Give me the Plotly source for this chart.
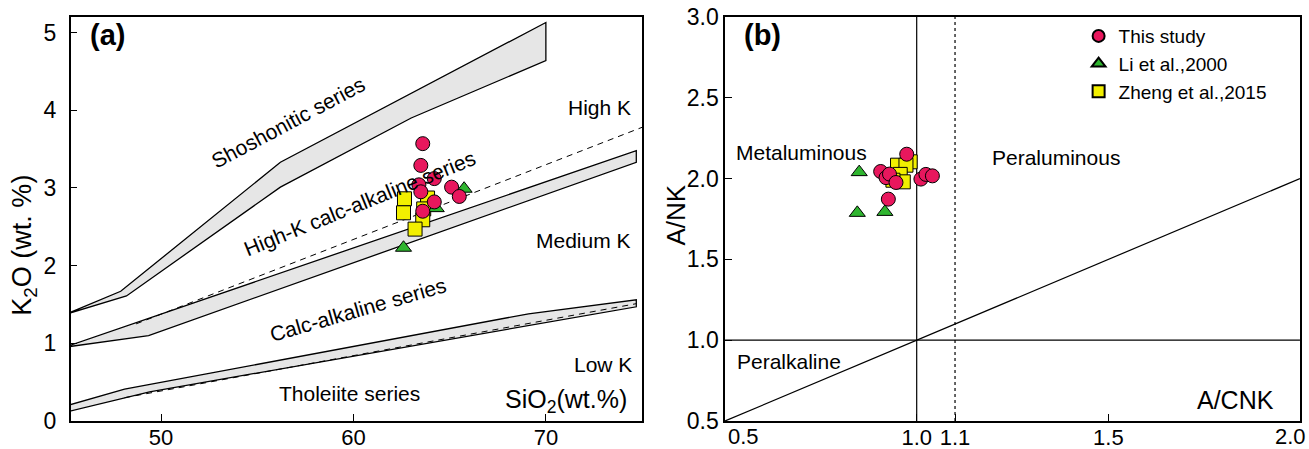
import plotly.graph_objects as go

# ---------------- (a) SiO2 vs K2O ----------------
# Series boundary bands (upper / lower edge of each grey band)
shos_upper_x = [45.0, 47.9, 56.2, 70.0]
shos_upper_y = [1.37, 1.67, 3.33, 5.13]
shos_lower_x = [45.0, 48.2, 56.2, 63.0, 70.0]
shos_lower_y = [1.37, 1.61, 3.01, 3.90, 4.64]

hk_upper_x = [45.0, 74.7]
hk_upper_y = [0.95, 3.48]
hk_lower_x = [45.0, 49.35, 74.7]
hk_lower_y = [0.95, 1.10, 3.33]
hk_dash_x = [48.7, 75.0]
hk_dash_y = [1.25, 3.78]

lk_upper_x = [45.0, 48.1, 69.1, 74.7]
lk_upper_y = [0.19, 0.41, 1.38, 1.56]
lk_lower_x = [45.0, 49.4, 74.7]
lk_lower_y = [0.11, 0.376, 1.47]
lk_dash_x = [48.1, 74.7]
lk_dash_y = [0.30, 1.51]

# Samples
this_sio2 = [63.6, 63.5, 64.2, 63.4, 63.5, 65.1, 65.5, 64.2, 63.6]
this_k2o = [3.57, 3.29, 3.12, 3.04, 2.95, 3.01, 2.89, 2.82, 2.70]
li_sio2 = [65.75, 64.3, 62.6]
li_k2o = [2.99, 2.74, 2.23]
zheng_sio2 = [62.65, 62.6, 63.85, 63.65, 63.6, 63.2]
zheng_k2o = [2.86, 2.68, 2.87, 2.73, 2.59, 2.47]

# ---------------- (b) A/CNK vs A/NK ----------------
this_acnk = [0.974, 0.906, 0.920, 0.929, 0.946, 1.011, 1.024, 1.041, 0.926]
this_anK = [2.151, 2.044, 2.006, 2.028, 1.976, 1.997, 2.026, 2.017, 1.873]
li_acnk = [0.850, 0.845, 0.917]
li_anK = [2.040, 1.788, 1.794]
zheng_acnk = [0.950, 0.983, 0.972, 0.957, 0.965, 0.938]
zheng_anK = [2.083, 2.104, 2.083, 2.026, 1.980, 1.990]

# Panel (b) reference lines
vline_x = [1.0, 1.0]
vline_y = [0.5, 3.0]
dot_x = [1.1, 1.1]
dot_y = [0.5, 3.0]
hline_x = [0.5, 2.0]
hline_y = [1.0, 1.0]
diag_x = [0.5, 2.0]
diag_y = [0.5, 2.0]

FONT = "Liberation Sans, Arial, sans-serif"
BAND_FILL = "#e6e6e6"
C_THIS = "#e8175d"
C_LI = "#2fb52f"
C_ZHENG = "#f2ef00"

fig = go.Figure()


def band(ux, uy, lx, ly):
    xs = list(ux) + list(reversed(lx)) + [ux[0]]
    ys = list(uy) + list(reversed(ly)) + [uy[0]]
    fig.add_trace(go.Scatter(x=xs, y=ys, mode="lines", fill="toself",
                             fillcolor=BAND_FILL,
                             line=dict(color="black", width=1.3),
                             showlegend=False, hoverinfo="skip",
                             xaxis="x", yaxis="y"))


band(shos_upper_x, shos_upper_y, shos_lower_x, shos_lower_y)
band(hk_upper_x, hk_upper_y, hk_lower_x, hk_lower_y)
band(lk_upper_x, lk_upper_y, lk_lower_x, lk_lower_y)

for dx, dy in ((hk_dash_x, hk_dash_y), (lk_dash_x, lk_dash_y)):
    fig.add_trace(go.Scatter(x=dx, y=dy, mode="lines",
                             line=dict(color="black", width=1, dash="6px,5px"),
                             showlegend=False, hoverinfo="skip",
                             xaxis="x", yaxis="y"))

for lx, ly, dash in ((vline_x, vline_y, "solid"), (dot_x, dot_y, "dot"),
                     (hline_x, hline_y, "solid"), (diag_x, diag_y, "solid")):
    fig.add_trace(go.Scatter(x=lx, y=ly, mode="lines",
                             line=dict(color="black", width=1.2, dash=dash),
                             showlegend=False, hoverinfo="skip",
                             xaxis="x2", yaxis="y2"))

MK = dict(size=14, line=dict(color="black", width=1))

# Sample markers: squares first, then triangles, circles on top
for ax, ay, show in (("x", "y", True), ("x2", "y2", False)):
    zx, zy = (zheng_sio2, zheng_k2o) if ax == "x" else (zheng_acnk, zheng_anK)
    lx_, ly_ = (li_sio2, li_k2o) if ax == "x" else (li_acnk, li_anK)
    tx, ty = (this_sio2, this_k2o) if ax == "x" else (this_acnk, this_anK)
    fig.add_trace(go.Scatter(x=zx, y=zy, mode="markers", name="Zheng et al.,2015",
                             marker=dict(symbol="square", color=C_ZHENG, **MK),
                             showlegend=show, legendrank=3,
                             xaxis=ax, yaxis=ay))
    fig.add_trace(go.Scatter(x=lx_, y=ly_, mode="markers", name="Li et al.,2000",
                             marker=dict(symbol="triangle-up", color=C_LI, **MK),
                             showlegend=show, legendrank=2,
                             xaxis=ax, yaxis=ay))
    fig.add_trace(go.Scatter(x=tx, y=ty, mode="markers", name="This study",
                             marker=dict(symbol="circle", color=C_THIS, **MK),
                             showlegend=show, legendrank=1,
                             xaxis=ax, yaxis=ay))

axis_common = dict(showline=True, linecolor="black", linewidth=1.5, mirror=True,
                   ticks="inside", ticklen=7, tickwidth=1.2, tickcolor="black",
                   showgrid=False, zeroline=False, automargin=False)
XFONT = dict(family=FONT, size=22, color="black")
YFONT = dict(family=FONT, size=23, color="black")

fig.update_layout(
    width=1309, height=449,
    margin=dict(l=0, r=0, t=0, b=0, autoexpand=False),
    paper_bgcolor="white", plot_bgcolor="white",
    font=dict(family=FONT, color="black"),
    xaxis=dict(domain=[0.054, 0.4905], range=[45.3, 75.0],
               tickvals=[50, 60, 70], anchor="y", tickfont=XFONT,
               ticklabelstandoff=-4, **axis_common),
    yaxis=dict(domain=[0.0624, 0.9621], range=[0, 5.2],
               tickvals=[0, 1, 2, 3, 4, 5], anchor="x", tickfont=YFONT,
               ticklabelstandoff=8, **axis_common),
    xaxis2=dict(domain=[0.5539, 0.9931], range=[0.5, 2.0],
                tickvals=[0.5, 1.0, 1.1, 1.5, 2.0],
                ticktext=["", "1.0", "1.1", "1.5", ""],
                anchor="y2", tickfont=XFONT, ticklabelstandoff=-4,
                **axis_common),
    yaxis2=dict(domain=[0.0624, 0.9621], range=[0.5, 3.0],
                tickvals=[0.5, 1.0, 1.5, 2.0, 2.5, 3.0],
                ticktext=["0.5", "1.0", "1.5", "2.0", "2.5", "3.0"],
                anchor="x2", tickfont=YFONT, **axis_common),
    legend=dict(x=0.824, y=0.962, xanchor="left", yanchor="top",
                bgcolor="rgba(0,0,0,0)", borderwidth=0,
                font=dict(family=FONT, size=19, color="black"),
                itemsizing="constant", tracegroupgap=0),
)


def note(text, x, y, ref="", angle=0, size=21, bold=False):
    t = f"<b>{text}</b>" if bold else text
    fig.add_annotation(text=t, x=x, y=y, xref="x" + ref, yref="y" + ref,
                       showarrow=False, textangle=angle,
                       xanchor="center", yanchor="middle",
                       font=dict(family=FONT, size=size, color="black"))


# Panel (a) labels
note("(a)", 47.19, 4.97, size=29, bold=True)
note("Shoshonitic series", 56.6, 3.84, angle=-28)
note("High K", 72.77, 4.04)
note("High-K calc-alkaline series", 60.3, 2.80, angle=-22)
note("Medium K", 71.96, 2.32)
note("Calc-alkaline series", 60.25, 1.43, angle=-16)
note("Low K", 72.95, 0.73)
note("Tholeiite series", 59.8, 0.36)
note("SiO<sub>2</sub>(wt.%)", 71.06, 0.26, size=25)

# Panel (b) labels
note("(b)", 0.599, 2.888, ref="2", size=29, bold=True)
note("Metaluminous", 0.70, 2.16, ref="2")
note("Peraluminous", 1.364, 2.133, ref="2")
note("Peralkaline", 0.667, 0.87, ref="2")
note("A/CNK", 1.833, 0.628, ref="2", size=25)

# End x tick labels of panel (b), nudged inward at the corners
fig.add_annotation(text="0.5", x=0.5, y=0.5, xref="x2", yref="y2",
                   showarrow=False, xanchor="left", yanchor="top",
                   xshift=1, yshift=-1, font=XFONT)
fig.add_annotation(text="2.0", x=2.0, y=0.5, xref="x2", yref="y2",
                   showarrow=False, xanchor="right", yanchor="top",
                   xshift=8, yshift=-1, font=XFONT)

# Axis titles
fig.add_annotation(text="K<sub>2</sub>O (wt. %)", x=0.0183, y=0.455,
                   xref="paper", yref="paper", showarrow=False, textangle=-90,
                   xanchor="center", yanchor="middle",
                   font=dict(family=FONT, size=27, color="black"))
fig.add_annotation(text="A/NK", x=0.5157, y=0.52,
                   xref="paper", yref="paper", showarrow=False, textangle=-90,
                   xanchor="center", yanchor="middle",
                   font=dict(family=FONT, size=26, color="black"))

fig.write_html("out.html")
